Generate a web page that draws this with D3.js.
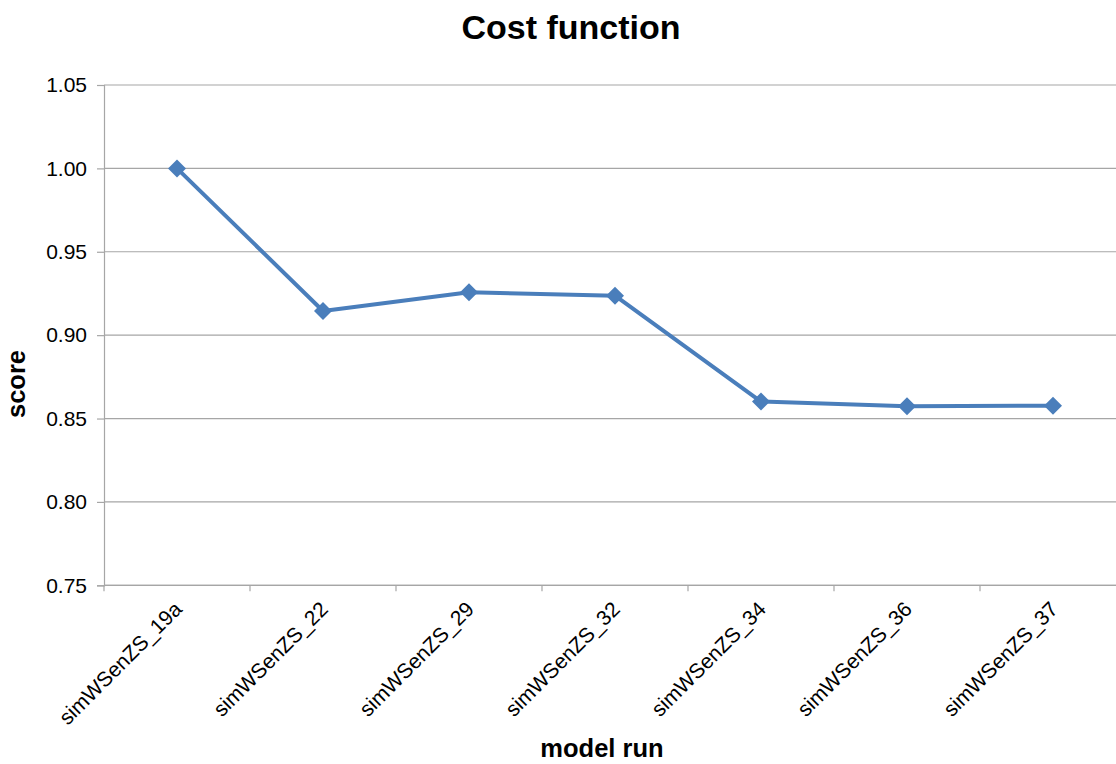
<!DOCTYPE html>
<html>
<head>
<meta charset="utf-8">
<script src="https://cdn.jsdelivr.net/npm/d3@7"></script>
<style>
  html, body { margin: 0; padding: 0; background: #fff; }
  svg { display: block; }
  text { font-family: "Liberation Sans", Arial, sans-serif; fill: #000; }
</style>
</head>
<body>
<svg id="chart" width="1116" height="764"></svg>
<script>
// Model runs and their cost-function scores
const runs = ["simWSenZS_19a", "simWSenZS_22", "simWSenZS_29", "simWSenZS_32",
              "simWSenZS_34", "simWSenZS_36", "simWSenZS_37"];
const scores = [1.000, 0.9145, 0.9257, 0.9237, 0.8602, 0.8574, 0.8577];
const yTicks = [0.75, 0.80, 0.85, 0.90, 0.95, 1.00, 1.05];

const svg = d3.select("#chart");
const plotLeft = 104, plotRight = 1126, plotTop = 85, plotBottom = 585.3;
const blue = "#4a7ebb", grid = "#a6a6a6";

const x = d3.scaleBand().domain(runs).range([plotLeft, plotRight]);
const y = d3.scaleLinear().domain([0.75, 1.05]).range([plotBottom, plotTop]);

// Horizontal gridlines
svg.append("g")
  .selectAll("line")
  .data(yTicks)
  .join("line")
  .attr("x1", plotLeft).attr("x2", plotRight)
  .attr("y1", d => y(d)).attr("y2", d => y(d))
  .attr("stroke", grid).attr("stroke-width", 1.2);

// Y axis
const yAxis = svg.append("g")
  .attr("transform", `translate(${plotLeft},0)`)
  .call(d3.axisLeft(y).tickValues(yTicks).tickFormat(d3.format(".2f")).tickSize(7).tickPadding(10));
yAxis.select(".domain").attr("stroke", grid).attr("stroke-width", 1.2);
yAxis.selectAll(".tick line").attr("stroke", grid).attr("stroke-width", 1.2);
yAxis.selectAll(".tick text")
  .style("font-family", "'Liberation Sans', Arial, sans-serif")
  .style("font-size", "21px").attr("fill", "#000");

// X axis baseline and ticks between categories
svg.append("line")
  .attr("x1", plotLeft).attr("x2", plotRight)
  .attr("y1", plotBottom).attr("y2", plotBottom)
  .attr("stroke", grid).attr("stroke-width", 1.2);
svg.append("g")
  .selectAll("line")
  .data(runs)
  .join("line")
  .attr("x1", d => x(d)).attr("x2", d => x(d))
  .attr("y1", plotBottom).attr("y2", plotBottom + 6)
  .attr("stroke", grid).attr("stroke-width", 1.2);

// Rotated category labels
svg.append("g")
  .selectAll("text")
  .data(runs)
  .join("text")
  .attr("transform", d => `translate(${x(d) + x.bandwidth() / 2 + 1},${plotBottom + 20}) rotate(-45)`)
  .attr("text-anchor", "end")
  .attr("dy", "0.35em")
  .style("font-size", "21px")
  .text(d => d);

// Series line
const cx = (d, i) => x(runs[i]) + x.bandwidth() / 2;
svg.append("path")
  .datum(scores)
  .attr("fill", "none")
  .attr("stroke", blue)
  .attr("stroke-width", 4)
  .attr("stroke-linejoin", "round")
  .attr("d", d3.line().x(cx).y(d => y(d)));

// Diamond markers
svg.append("g")
  .selectAll("path")
  .data(scores)
  .join("path")
  .attr("transform", (d, i) => `translate(${cx(d, i)},${y(d)})`)
  .attr("d", "M0,-9L9,0L0,9L-9,0Z")
  .attr("fill", blue);

// Titles
svg.append("text")
  .attr("x", 571).attr("y", 39)
  .attr("text-anchor", "middle")
  .style("font-size", "34px").style("font-weight", "bold")
  .text("Cost function");

svg.append("text")
  .attr("x", 602).attr("y", 757)
  .attr("text-anchor", "middle")
  .style("font-size", "25.5px").style("font-weight", "bold")
  .text("model run");

svg.append("text")
  .attr("transform", "translate(25,384) rotate(-90)")
  .attr("text-anchor", "middle")
  .style("font-size", "25.5px").style("font-weight", "bold")
  .text("score");
</script>
</body>
</html>
